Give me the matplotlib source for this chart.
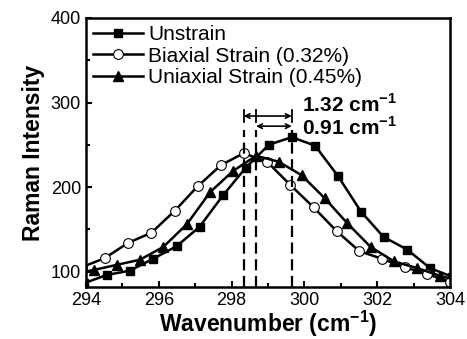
import matplotlib
matplotlib.use("Agg")
import matplotlib.pyplot as plt
from matplotlib.ticker import MultipleLocator

plt.rcParams['font.family'] = ['Liberation Sans', 'DejaVu Sans']
plt.rcParams['mathtext.fontset'] = 'custom'
plt.rcParams['mathtext.rm'] = 'Liberation Sans'
plt.rcParams['mathtext.bf'] = 'Liberation Sans:bold'

# data
x_un = [293.94, 294.57, 295.20, 295.84, 296.49, 297.12, 297.76, 298.39, 299.02,
        299.65, 300.29, 300.92, 301.55, 302.17, 302.82, 303.45, 304.05]
y_un = [86, 96, 101, 115, 130, 153, 190, 223, 250,
        259, 249, 213, 171, 141, 126, 104, 94]

x_bi = [293.88, 294.52, 295.16, 295.80, 296.44, 297.07, 297.71, 298.33, 298.97,
        299.60, 300.25, 300.88, 301.51, 302.14, 302.76, 303.37, 304.00]
y_bi = [105, 116, 134, 146, 172, 201, 226, 240, 230,
        203, 176, 148, 124, 115, 105, 97, 88]

x_uni = [293.60, 294.23, 294.85, 295.48, 296.12, 296.77, 297.41, 298.04, 298.67,
         299.29, 299.92, 300.55, 301.18, 301.82, 302.46, 303.10, 303.72, 304.35]
y_uni = [97, 102, 108, 114, 129, 156, 194, 219, 237,
         230, 214, 187, 157, 129, 112, 104, 95, 88]

labels = ['Unstrain', 'Biaxial Strain (0.32%)', 'Uniaxial Strain (0.45%)']
peaks = [298.33, 298.67, 299.65]

fig = plt.figure(figsize=(4.67, 3.39), dpi=100)
ax = fig.add_axes([0.184, 0.154, 0.78, 0.793])

ax.plot(x_un, y_un, '-s', color='black', lw=1.8, ms=6, label=labels[0])
ax.plot(x_bi, y_bi, '-o', color='black', lw=1.8, ms=7, mfc='white', mew=0.8, label=labels[1])
ax.plot(x_uni, y_uni, '-^', color='black', lw=1.8, ms=7.5, label=labels[2])

# peak position markers
for p in peaks:
    ax.plot([p, p], [82, 268], color='black', lw=1.6, ls=(0, (5, 2.5)))
for p in peaks:
    ax.plot([p, p], [277, 291], color='black', lw=1.3)

ax.annotate('', xy=(peaks[2], 284), xytext=(peaks[0], 284),
            arrowprops=dict(arrowstyle='<->', color='black', lw=1.2, shrinkA=0, shrinkB=0,
                            mutation_scale=8))
ax.annotate('', xy=(peaks[2], 272), xytext=(peaks[1], 272),
            arrowprops=dict(arrowstyle='<->', color='black', lw=1.2, shrinkA=0, shrinkB=0,
                            mutation_scale=8))
ax.text(299.93, 298, r'1.32 cm$^{\mathbf{-1}}$', fontsize=15, fontweight='bold', va='center')
ax.text(299.93, 270, r'0.91 cm$^{\mathbf{-1}}$', fontsize=15, fontweight='bold', va='center')

ax.set_xlim(294, 304)
ax.set_ylim(82, 400)
ax.xaxis.set_major_locator(MultipleLocator(2))
ax.xaxis.set_minor_locator(MultipleLocator(1))
ax.yaxis.set_major_locator(MultipleLocator(100))
ax.yaxis.set_minor_locator(MultipleLocator(50))
ax.set_yticks([100, 200, 300, 400])
ax.tick_params(which='both', direction='in', width=1.5, labelsize=13)
ax.tick_params(which='major', length=4)
ax.tick_params(which='minor', length=3)
for s in ax.spines.values():
    s.set_linewidth(1.8)

ax.set_xlabel(r'Wavenumber (cm$^{\mathbf{-1}}$)', fontsize=16.5, fontweight='bold', labelpad=0)
ax.set_ylabel('Raman Intensity', fontsize=16.5, fontweight='bold', labelpad=4)

ax.legend(loc='upper left', frameon=False, fontsize=15, handlelength=2.4,
          handletextpad=0.25, borderaxespad=0.15, labelspacing=0.12, borderpad=0.2)

fig.savefig('out.png', dpi=100)
